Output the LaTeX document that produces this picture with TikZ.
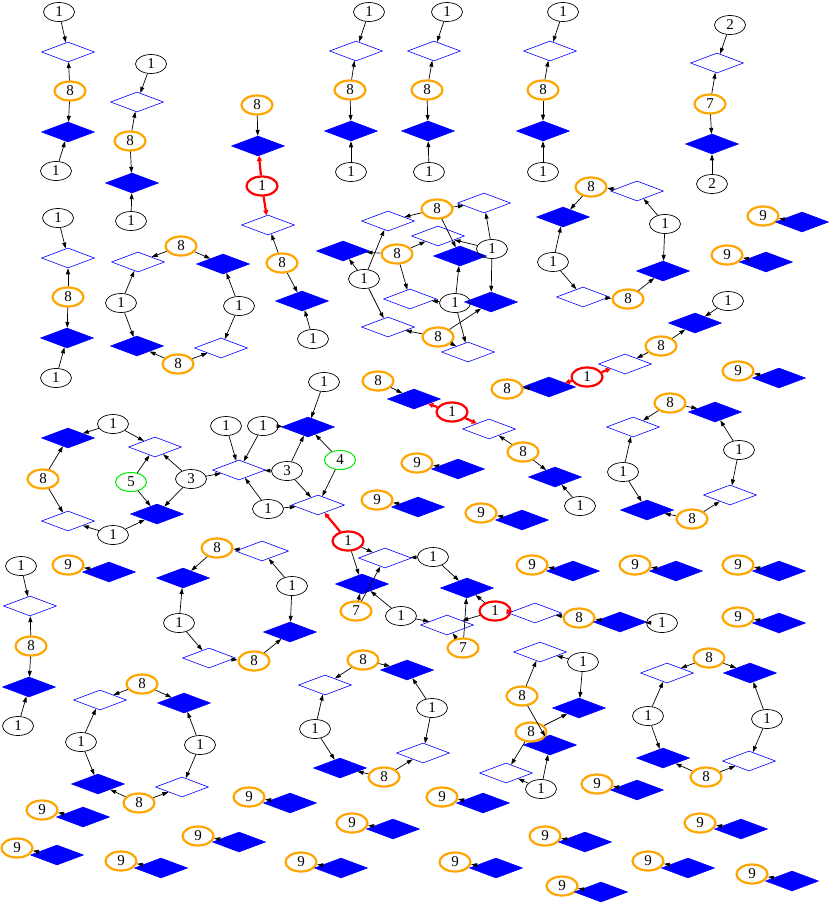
\documentclass[tikz,border=0pt]{standalone}
\usepackage{fontspec}
\setmainfont{Liberation Serif}
\usepackage{tikz}
\definecolor{gvorange}{RGB}{255,165,0}
\definecolor{gvgreen}{RGB}{0,235,0}
\tikzset{
  count_font/.style = {font=\fontsize{15}{17}\selectfont},
  plain_line/.style = {line width=0.7pt}
}
\tikzset{
  count/.style = {count_font, ellipse, draw, plain_line, minimum width=31pt, minimum height=19pt, inner sep=0pt},
  count_hub/.style = {count, draw=gvorange, line width=2.2pt},
  count_key/.style = {count, draw=red, line width=2.2pt},
  count_mark/.style = {count, draw=gvgreen, line width=1pt},
  slot_open/.style = {diamond, draw=blue, line width=0.6pt, fill=white, minimum width=53pt, minimum height=20pt, inner sep=0pt},
  slot_full/.style = {slot_open, fill=blue}
}
\tikzset{
  link/.style = {-{Triangle[length=6pt,width=4pt]}, plain_line},
  key_link/.style = {-{Triangle[length=5pt,width=5pt]}, red, line width=2.2pt}
}
\usetikzlibrary{shapes.geometric, arrows.meta}

\begin{document}
\begin{tikzpicture}[x=1pt, y=-1pt]
        \useasboundingbox (0,0) rectangle (830,906);

        % Chains
        \node[count] at (59,12) (a_t) {1};
        \node[slot_open] at (68,52) (a_o) {};
        \node[count_hub] at (70,91) (a_h) {8};
        \node[slot_full] at (68,132) (a_f) {};
        \node[count] at (56,171) (a_b) {1};

        \node[count] at (151,64) (b_t) {1};
        \node[slot_open] at (137,102) (b_o) {};
        \node[count_hub] at (130,141) (b_h) {8};
        \node[slot_full] at (132,183) (b_f) {};
        \node[count] at (131,221) (b_b) {1};

        \node[count] at (369,12) (d_t) {1};
        \node[slot_open] at (356,51) (d_o) {};
        \node[count_hub] at (350,90) (d_h) {8};
        \node[slot_full] at (351,131) (d_f) {};
        \node[count] at (351,172) (d_b) {1};

        \node[count] at (447,12) (e_t) {1};
        \node[slot_open] at (434,51) (e_o) {};
        \node[count_hub] at (427,90) (e_h) {8};
        \node[slot_full] at (428,131) (e_f) {};
        \node[count] at (429,172) (e_b) {1};

        \node[count] at (563,12) (f_t) {1};
        \node[slot_open] at (550,51) (f_o) {};
        \node[count_hub] at (543,90) (f_h) {8};
        \node[slot_full] at (543,131) (f_f) {};
        \node[count] at (543,172) (f_b) {1};

        \node[count] at (730,25) (g_t) {2};
        \node[slot_open] at (717,63) (g_o) {};
        \node[count_hub] at (710,104) (g_h) {7};
        \node[slot_full] at (712,144) (g_f) {};
        \node[count] at (712,184) (g_b) {2};

        \node[count] at (58,218) (h_t) {1};
        \node[slot_open] at (68,258) (h_o) {};
        \node[count_hub] at (68,297) (h_h) {8};
        \node[slot_full] at (67,338) (h_f) {};
        \node[count] at (56,378) (h_b) {1};

        \node[count] at (21,566) (s_t) {1};
        \node[slot_open] at (30,606) (s_o) {};
        \node[count_hub] at (31,646) (s_h) {8};
        \node[slot_full] at (29,687) (s_f) {};
        \node[count] at (18,726) (s_b) {1};

        % Red chains
        \node[count_hub] at (257,105) (c_h) {8};
        \node[slot_full] at (258,146) (c_f) {};
        \node[count_key] at (262,186) (c_r) {1};
        \node[slot_open] at (268,225) (c_o) {};
        \node[count_hub] at (282,263) (c_h2) {8};
        \node[slot_full] at (302,301) (c_f2) {};
        \node[count] at (313,339) (c_b) {1};

        \node[count_hub] at (378,381) (k_h) {8};
        \node[slot_full] at (414,399) (k_f) {};
        \node[count_key] at (452,412) (k_r) {1};
        \node[slot_open] at (489,429) (k_o) {};
        \node[count_hub] at (523,452) (k_h2) {8};
        \node[slot_full] at (555,477) (k_f2) {};
        \node[count] at (580,506) (k_b) {1};

        \node[count] at (728,301) (l_t) {1};
        \node[slot_full] at (695,323) (l_f) {};
        \node[count_hub] at (661,346) (l_h) {8};
        \node[slot_open] at (625,364) (l_o) {};
        \node[count_key] at (587,377) (l_r) {1};
        \node[slot_full] at (549,387) (l_f2) {};
        \node[count_hub] at (507,389) (l_h2) {8};

        % Rings
        \node[count_hub] at (181,246) (r1_ht) {8};
        \node[slot_open] at (138,262) (r1_ot) {};
        \node[slot_full] at (223,264) (r1_ft) {};
        \node[count] at (121,303) (r1_l) {1};
        \node[count] at (239,306) (r1_r) {1};
        \node[slot_full] at (137,346) (r1_fb) {};
        \node[count_hub] at (178,364) (r1_hb) {8};
        \node[slot_open] at (221,348) (r1_ob) {};

        \node[count_hub] at (591,187) (r2_ht) {8};
        \node[slot_open] at (637,191) (r2_ot) {};
        \node[slot_full] at (563,217) (r2_ft) {};
        \node[count] at (665,224) (r2_r) {1};
        \node[count] at (553,262) (r2_l) {1};
        \node[slot_full] at (663,271) (r2_fb) {};
        \node[slot_open] at (583,297) (r2_ob) {};
        \node[count_hub] at (628,299) (r2_hb) {8};

        \node[count_hub] at (670,403) (r3_ht) {8};
        \node[slot_full] at (715,412) (r3_ft) {};
        \node[slot_open] at (633,427) (r3_ot) {};
        \node[count] at (739,450) (r3_r) {1};
        \node[count] at (623,472) (r3_l) {1};
        \node[slot_open] at (730,495) (r3_ob) {};
        \node[slot_full] at (647,510) (r3_fb) {};
        \node[count_hub] at (692,519) (r3_hb) {8};

        \node[count_hub] at (217,548) (r4_ht) {8};
        \node[slot_open] at (262,551) (r4_ot) {};
        \node[slot_full] at (183,578) (r4_ft) {};
        \node[count] at (179,623) (r4_l) {1};
        \node[count] at (292,586) (r4_r) {1};
        \node[slot_full] at (290,632) (r4_fb) {};
        \node[slot_open] at (209,658) (r4_ob) {};
        \node[count_hub] at (254,661) (r4_hb) {8};

        \node[count_hub] at (142,684) (r5_ht) {8};
        \node[slot_open] at (100,700) (r5_ot) {};
        \node[slot_full] at (184,703) (r5_ft) {};
        \node[count] at (81,742) (r5_l) {1};
        \node[count] at (200,745) (r5_r) {1};
        \node[slot_full] at (98,784) (r5_fb) {};
        \node[count_hub] at (139,803) (r5_hb) {8};
        \node[slot_open] at (182,787) (r5_ob) {};

        \node[count_hub] at (363,660) (r6_ht) {8};
        \node[slot_full] at (407,670) (r6_ft) {};
        \node[slot_open] at (325,685) (r6_ot) {};
        \node[count] at (315,729) (r6_l) {1};
        \node[count] at (432,708) (r6_r) {1};
        \node[slot_full] at (340,768) (r6_fb) {};
        \node[count_hub] at (384,777) (r6_hb) {8};
        \node[slot_open] at (423,753) (r6_ob) {};

        \node[count_hub] at (709,658) (r7_ht) {8};
        \node[slot_open] at (667,673) (r7_ot) {};
        \node[slot_full] at (750,673) (r7_ft) {};
        \node[count] at (648,716) (r7_l) {1};
        \node[count] at (767,719) (r7_r) {1};
        \node[slot_full] at (663,758) (r7_fb) {};
        \node[count_hub] at (706,777) (r7_hb) {8};
        \node[slot_open] at (749,761) (r7_ob) {};

        % Middle cluster
        \node[slot_open] at (388,221) (m_o1) {};
        \node[slot_open] at (484,203) (m_o2) {};
        \node[slot_open] at (438,236) (m_o3) {};
        \node[slot_open] at (410,299) (m_o4) {};
        \node[slot_open] at (388,327) (m_o5) {};
        \node[slot_open] at (468,352) (m_o6) {};
        \node[slot_full] at (343,251) (m_f1) {};
        \node[slot_full] at (460,256) (m_f2) {};
        \node[slot_full] at (491,302) (m_f3) {};
        \node[count_hub] at (437,209) (m_h1) {8};
        \node[count_hub] at (397,254) (m_h2) {8};
        \node[count_hub] at (438,337) (m_h3) {8};
        \node[count] at (364,279) (m_n1) {1};
        \node[count] at (492,249) (m_n2) {1};
        \node[count] at (455,303) (m_n3) {1};

        % Left cluster
        \node[slot_full] at (68,438) (p_f1) {};
        \node[count] at (113,424) (p_n1) {1};
        \node[slot_open] at (155,447) (p_o1) {};
        \node[count_hub] at (43,479) (p_h) {8};
        \node[count_mark] at (131,482) (p_g) {5};
        \node[count] at (191,479) (p_3) {3};
        \node[slot_open] at (68,521) (p_o2) {};
        \node[slot_full] at (157,514) (p_f2) {};
        \node[count] at (113,535) (p_n2) {1};
        \node[slot_open] at (239,470) (p_o3) {};
        \node[count] at (226,426) (p_n3) {1};
        \node[count] at (263,426) (p_n4) {1};
        \node[count] at (268,509) (p_n5) {1};
        \node[slot_full] at (308,427) (p_f3) {};
        \node[count] at (324,382) (p_n6) {1};
        \node[count] at (287,471) (p_33) {3};
        \node[count_mark] at (340,460) (p_g4) {4};
        \node[slot_open] at (318,505) (p_o4) {};

        % Lower cluster
        \node[count_key] at (348,541) (q_r) {1};
        \node[slot_open] at (385,558) (q_o1) {};
        \node[count] at (433,557) (q_n1) {1};
        \node[slot_full] at (362,584) (q_f1) {};
        \node[slot_full] at (467,588) (q_f2) {};
        \node[count_hub] at (356,611) (q_7a) {7};
        \node[count] at (401,616) (q_n2) {1};
        \node[slot_open] at (447,625) (q_o2) {};
        \node[count_key] at (495,611) (q_r2) {1};
        \node[count_hub] at (463,648) (q_7b) {7};
        \node[slot_open] at (535,613) (q_o3) {};
        \node[count_hub] at (579,618) (q_h) {8};
        \node[slot_full] at (620,622) (q_f3) {};
        \node[count] at (662,623) (q_n3) {1};

        \node[slot_open] at (540,652) (t_o1) {};
        \node[count] at (583,662) (t_n1) {1};
        \node[count_hub] at (522,696) (t_h1) {8};
        \node[slot_full] at (579,708) (t_f1) {};
        \node[slot_full] at (550,745) (t_f2) {};
        \node[count_hub] at (531,732) (t_h2) {8};
        \node[slot_open] at (506,773) (t_o2) {};
        \node[count] at (541,789) (t_n2) {1};

        % Nine pairs
        \node[count_hub] at (763,216) (n9_1) {9};  \node[slot_full] at (802,222) (d9_1) {};
        \node[count_hub] at (727,255) (n9_2) {9};  \node[slot_full] at (766,262) (d9_2) {};
        \node[count_hub] at (738,371) (n9_3) {9};  \node[slot_full] at (779,378) (d9_3) {};
        \node[count_hub] at (417,463) (n9_4) {9};  \node[slot_full] at (458,469) (d9_4) {};
        \node[count_hub] at (377,500) (n9_5) {9};  \node[slot_full] at (418,507) (d9_5) {};
        \node[count_hub] at (481,513) (n9_6) {9};  \node[slot_full] at (522,520) (d9_6) {};
        \node[count_hub] at (532,565) (n9_7) {9};  \node[slot_full] at (573,571) (d9_7) {};
        \node[count_hub] at (635,565) (n9_8) {9};  \node[slot_full] at (676,571) (d9_8) {};
        \node[count_hub] at (738,565) (n9_9) {9};  \node[slot_full] at (779,571) (d9_9) {};
        \node[count_hub] at (738,617) (n9_10) {9}; \node[slot_full] at (779,623) (d9_10) {};
        \node[count_hub] at (68,565) (n9_11) {9};  \node[slot_full] at (109,572) (d9_11) {};
        \node[count_hub] at (42,810) (n9_12) {9};  \node[slot_full] at (83,817) (d9_12) {};
        \node[count_hub] at (17,848) (n9_13) {9};  \node[slot_full] at (57,855) (d9_13) {};
        \node[count_hub] at (121,861) (n9_14) {9}; \node[slot_full] at (161,868) (d9_14) {};
        \node[count_hub] at (249,797) (n9_15) {9}; \node[slot_full] at (290,803) (d9_15) {};
        \node[count_hub] at (198,836) (n9_16) {9}; \node[slot_full] at (239,842) (d9_16) {};
        \node[count_hub] at (442,797) (n9_17) {9}; \node[slot_full] at (483,803) (d9_17) {};
        \node[count_hub] at (352,823) (n9_18) {9}; \node[slot_full] at (393,829) (d9_18) {};
        \node[count_hub] at (301,862) (n9_19) {9}; \node[slot_full] at (341,868) (d9_19) {};
        \node[count_hub] at (455,862) (n9_20) {9}; \node[slot_full] at (496,868) (d9_20) {};
        \node[count_hub] at (545,836) (n9_21) {9}; \node[slot_full] at (585,842) (d9_21) {};
        \node[count_hub] at (597,784) (n9_22) {9}; \node[slot_full] at (637,790) (d9_22) {};
        \node[count_hub] at (700,823) (n9_23) {9}; \node[slot_full] at (741,829) (d9_23) {};
        \node[count_hub] at (648,861) (n9_24) {9}; \node[slot_full] at (688,868) (d9_24) {};
        \node[count_hub] at (752,874) (n9_25) {9}; \node[slot_full] at (792,881) (d9_25) {};
        \node[count_hub] at (562,886) (n9_26) {9}; \node[slot_full] at (601,892) (d9_26) {};

        % Arrows
        \draw[link] (a_t)--(a_o);
        \draw[link] (a_h)--(a_o);
        \draw[link] (a_h)--(a_f);
        \draw[link] (a_b)--(a_f);
        \draw[link] (b_t)--(b_o);
        \draw[link] (b_h)--(b_o);
        \draw[link] (b_h)--(b_f);
        \draw[link] (b_b)--(b_f);
        \draw[link] (d_t)--(d_o);
        \draw[link] (d_h)--(d_o);
        \draw[link] (d_h)--(d_f);
        \draw[link] (d_b)--(d_f);
        \draw[link] (e_t)--(e_o);
        \draw[link] (e_h)--(e_o);
        \draw[link] (e_h)--(e_f);
        \draw[link] (e_b)--(e_f);
        \draw[link] (f_t)--(f_o);
        \draw[link] (f_h)--(f_o);
        \draw[link] (f_h)--(f_f);
        \draw[link] (f_b)--(f_f);
        \draw[link] (g_t)--(g_o);
        \draw[link] (g_h)--(g_o);
        \draw[link] (g_h)--(g_f);
        \draw[link] (g_b)--(g_f);
        \draw[link] (h_t)--(h_o);
        \draw[link] (h_h)--(h_o);
        \draw[link] (h_h)--(h_f);
        \draw[link] (h_b)--(h_f);
        \draw[link] (s_t)--(s_o);
        \draw[link] (s_h)--(s_o);
        \draw[link] (s_h)--(s_f);
        \draw[link] (s_b)--(s_f);

        \draw[link] (c_h)--(c_f);
        \draw[key_link] (c_r)--(c_f);
        \draw[key_link] (c_r)--(c_o);
        \draw[link] (c_h2)--(c_o);
        \draw[link] (c_h2)--(c_f2);
        \draw[link] (c_b)--(c_f2);
        \draw[link] (k_h)--(k_f);
        \draw[key_link] (k_r)--(k_f);
        \draw[key_link] (k_r)--(k_o);
        \draw[link] (k_h2)--(k_o);
        \draw[link] (k_h2)--(k_f2);
        \draw[link] (k_b)--(k_f2);
        \draw[link] (l_t)--(l_f);
        \draw[link] (l_h)--(l_f);
        \draw[link] (l_h)--(l_o);
        \draw[key_link] (l_r)--(l_o);
        \draw[key_link] (l_r)--(l_f2);
        \draw[link] (l_f2)--(l_h2);

        \draw[link] (r1_ht)--(r1_ot);
        \draw[link] (r1_ht)--(r1_ft);
        \draw[link] (r1_l)--(r1_ot);
        \draw[link] (r1_l)--(r1_fb);
        \draw[link] (r1_r)--(r1_ft);
        \draw[link] (r1_r)--(r1_ob);
        \draw[link] (r1_hb)--(r1_fb);
        \draw[link] (r1_hb)--(r1_ob);
        \draw[link] (r2_ot)--(r2_ht);
        \draw[link] (r2_ht)--(r2_ft);
        \draw[link] (r2_r)--(r2_ot);
        \draw[link] (r2_r)--(r2_fb);
        \draw[link] (r2_l)--(r2_ft);
        \draw[link] (r2_l)--(r2_ob);
        \draw[link] (r2_ob)--(r2_hb);
        \draw[link] (r2_hb)--(r2_fb);
        \draw[link] (r3_ht)--(r3_ot);
        \draw[link] (r3_ht)--(r3_ft);
        \draw[link] (r3_r)--(r3_ft);
        \draw[link] (r3_r)--(r3_ob);
        \draw[link] (r3_l)--(r3_ot);
        \draw[link] (r3_l)--(r3_fb);
        \draw[link] (r3_hb)--(r3_fb);
        \draw[link] (r3_hb)--(r3_ob);
        \draw[link] (r4_ot)--(r4_ht);
        \draw[link] (r4_ht)--(r4_ft);
        \draw[link] (r4_l)--(r4_ft);
        \draw[link] (r4_l)--(r4_ob);
        \draw[link] (r4_r)--(r4_ot);
        \draw[link] (r4_r)--(r4_fb);
        \draw[link] (r4_ob)--(r4_hb);
        \draw[link] (r4_hb)--(r4_fb);
        \draw[link] (r5_ht)--(r5_ot);
        \draw[link] (r5_ht)--(r5_ft);
        \draw[link] (r5_l)--(r5_ot);
        \draw[link] (r5_l)--(r5_fb);
        \draw[link] (r5_r)--(r5_ft);
        \draw[link] (r5_r)--(r5_ob);
        \draw[link] (r5_hb)--(r5_fb);
        \draw[link] (r5_hb)--(r5_ob);
        \draw[link] (r6_ht)--(r6_ot);
        \draw[link] (r6_ht)--(r6_ft);
        \draw[link] (r6_l)--(r6_ot);
        \draw[link] (r6_l)--(r6_fb);
        \draw[link] (r6_r)--(r6_ft);
        \draw[link] (r6_r)--(r6_ob);
        \draw[link] (r6_hb)--(r6_fb);
        \draw[link] (r6_hb)--(r6_ob);
        \draw[link] (r7_ht)--(r7_ot);
        \draw[link] (r7_ht)--(r7_ft);
        \draw[link] (r7_l)--(r7_ot);
        \draw[link] (r7_l)--(r7_fb);
        \draw[link] (r7_r)--(r7_ft);
        \draw[link] (r7_r)--(r7_ob);
        \draw[link] (r7_hb)--(r7_fb);
        \draw[link] (r7_hb)--(r7_ob);

        \draw[link] (m_h1)--(m_o1);
        \draw[link] (m_h1)--(m_o2);
        \draw[link] (m_h1)--(m_f2);
        \draw[link] (m_h2)--(m_f1);
        \draw[link] (m_h2)--(m_o3);
        \draw[link] (m_h2)--(m_o4);
        \draw[link] (m_h3)--(m_o5);
        \draw[link] (m_h3)--(m_f3);
        \draw[link] (m_h3)--(m_o6);
        \draw[link] (m_n1)--(m_f1);
        \draw[link] (m_n1)--(m_o1);
        \draw[link] (m_n1)--(m_o5);
        \draw[link] (m_n2)--(m_o3);
        \draw[link] (m_n2)--(m_f3);
        \draw[link] (m_n2)--(m_o2);
        \draw[link] (m_n3)--(m_f2);
        \draw[link] (m_n3)--(m_o4);
        \draw[link] (m_n3)--(m_o6);

        \draw[link] (p_n1)--(p_f1);
        \draw[link] (p_n1)--(p_o1);
        \draw[link] (p_h)--(p_f1);
        \draw[link] (p_h)--(p_o2);
        \draw[link] (p_n2)--(p_o2);
        \draw[link] (p_n2)--(p_f2);
        \draw[link] (p_g)--(p_o1);
        \draw[link] (p_g)--(p_f2);
        \draw[link] (p_3)--(p_o1);
        \draw[link] (p_3)--(p_f2);
        \draw[link] (p_3)--(p_o3);
        \draw[link] (p_n3)--(p_o3);
        \draw[link] (p_n4)--(p_o3);
        \draw[link] (p_n4)--(p_f3);
        \draw[link] (p_n5)--(p_o3);
        \draw[link] (p_n5)--(p_o4);
        \draw[link] (p_33)--(p_o3);
        \draw[link] (p_33)--(p_f3);
        \draw[link] (p_33)--(p_o4);
        \draw[link] (p_n6)--(p_f3);
        \draw[link] (p_g4)--(p_f3);
        \draw[link] (p_g4)--(p_o4);

        \draw[key_link] (q_r)--(p_o4);
        \draw[link] (q_r)--(q_o1);
        \draw[link] (q_r)--(q_f1);
        \draw[link] (q_n1)--(q_o1);
        \draw[link] (q_n1)--(q_f2);
        \draw[link] (q_7a)--(q_f1);
        \draw[link] (q_7a)--(q_o1);
        \draw[link] (q_n2)--(q_f1);
        \draw[link] (q_n2)--(q_o2);
        \draw[link] (q_r2)--(q_f2);
        \draw[link] (q_r2)--(q_o2);
        \draw[link] (q_7b)--(q_f2);
        \draw[link] (q_7b)--(q_o2);
        \draw[key_link] (q_o3)--(q_r2);
        \draw[link] (q_h)--(q_o3);
        \draw[link] (q_f3)--(q_h);
        \draw[link] (q_n3)--(q_f3);

        \draw[link] (t_n1)--(t_o1);
        \draw[link] (t_n1)--(t_f1);
        \draw[link] (t_h1)--(t_o1);
        \draw[link] (t_h1)--(t_f2);
        \draw[link] (t_h2)--(t_f1);
        \draw[link] (t_h2)--(t_o2);
        \draw[link] (t_n2)--(t_o2);
        \draw[link] (t_n2)--(t_f2);

        \draw[link] (d9_1)--(n9_1);
        \draw[link] (d9_2)--(n9_2);
        \draw[link] (d9_3)--(n9_3);
        \draw[link] (d9_4)--(n9_4);
        \draw[link] (d9_5)--(n9_5);
        \draw[link] (d9_6)--(n9_6);
        \draw[link] (d9_7)--(n9_7);
        \draw[link] (d9_8)--(n9_8);
        \draw[link] (d9_9)--(n9_9);
        \draw[link] (d9_10)--(n9_10);
        \draw[link] (d9_11)--(n9_11);
        \draw[link] (d9_12)--(n9_12);
        \draw[link] (d9_13)--(n9_13);
        \draw[link] (d9_14)--(n9_14);
        \draw[link] (d9_15)--(n9_15);
        \draw[link] (d9_16)--(n9_16);
        \draw[link] (d9_17)--(n9_17);
        \draw[link] (d9_18)--(n9_18);
        \draw[link] (d9_19)--(n9_19);
        \draw[link] (d9_20)--(n9_20);
        \draw[link] (d9_21)--(n9_21);
        \draw[link] (d9_22)--(n9_22);
        \draw[link] (d9_23)--(n9_23);
        \draw[link] (d9_24)--(n9_24);
        \draw[link] (d9_25)--(n9_25);
        \draw[link] (d9_26)--(n9_26);
\end{tikzpicture}
\end{document}
